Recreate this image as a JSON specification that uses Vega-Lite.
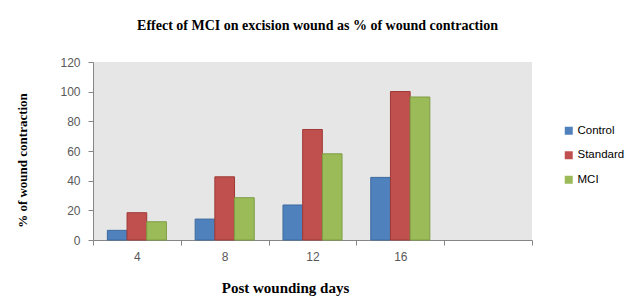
{
  "$schema": "https://vega.github.io/schema/vega-lite/v6.json",
  "autosize": {"type": "none"},
  "width": 439,
  "height": 178,
  "padding": {"left": 93, "top": 62, "right": 94, "bottom": 63},
  "background": "#ffffff",
  "title": {
    "text": "Effect of MCI on excision wound as % of wound contraction",
    "font": "Liberation Serif",
    "fontSize": 14,
    "fontWeight": "bold",
    "color": "#000000",
    "anchor": "middle",
    "offset": 23,
    "dx": 5
  },
  "data": {
    "values": [
      {"day": "4", "group": "Control", "value": 6.5},
      {"day": "4", "group": "Standard", "value": 18.4},
      {"day": "4", "group": "MCI", "value": 12.3},
      {"day": "8", "group": "Control", "value": 14.1},
      {"day": "8", "group": "Standard", "value": 42.6},
      {"day": "8", "group": "MCI", "value": 28.5},
      {"day": "12", "group": "Control", "value": 23.6},
      {"day": "12", "group": "Standard", "value": 74.5},
      {"day": "12", "group": "MCI", "value": 58.1},
      {"day": "16", "group": "Control", "value": 42.2},
      {"day": "16", "group": "Standard", "value": 100.1},
      {"day": "16", "group": "MCI", "value": 96.4}
    ]
  },
  "mark": {"type": "bar", "strokeWidth": 1},
  "encoding": {
    "x": {
      "field": "day",
      "type": "nominal",
      "sort": null,
      "scale": {"domain": ["4", "8", "12", "16", "20"], "paddingInner": 0, "paddingOuter": 0},
      "axis": {
        "title": "Post wounding days",
        "titleFont": "Liberation Serif",
        "titleFontSize": 15,
        "titleFontWeight": "bold",
        "titleColor": "#000000",
        "titleX": 192,
        "titleY": 47,
        "titleBaseline": "middle",
        "labelAngle": 0,
        "labelExpr": "datum.value == '20' ? '' : datum.label",
        "labelFont": "Liberation Sans",
        "labelFontSize": 12,
        "labelColor": "#595959",
        "labelPadding": 6,
        "tickBand": "extent",
        "tickSize": 5,
        "tickColor": "#868686",
        "domainColor": "#868686",
        "grid": false
      }
    },
    "xOffset": {
      "field": "group",
      "type": "nominal",
      "sort": ["Control", "Standard", "MCI"],
      "scale": {"paddingInner": 0, "paddingOuter": 0.73}
    },
    "y": {
      "field": "value",
      "type": "quantitative",
      "scale": {"domain": [0, 120]},
      "axis": {
        "title": "% of wound contraction",
        "titleFont": "Liberation Serif",
        "titleFontSize": 13,
        "titleFontWeight": "bold",
        "titleColor": "#000000",
        "titleX": -71,
        "titleY": 98,
        "titleBaseline": "middle",
        "values": [0, 20, 40, 60, 80, 100, 120],
        "labelFont": "Liberation Sans",
        "labelFontSize": 12,
        "labelColor": "#595959",
        "labelPadding": 8,
        "tickSize": 5,
        "tickColor": "#868686",
        "domainColor": "#868686",
        "grid": false
      }
    },
    "color": {
      "field": "group",
      "type": "nominal",
      "sort": ["Control", "Standard", "MCI"],
      "scale": {"domain": ["Control", "Standard", "MCI"], "range": ["#4F81BD", "#C0504D", "#9BBB59"]},
      "legend": {
        "title": null,
        "orient": "none",
        "legendX": 470,
        "legendY": 63,
        "symbolType": "square",
        "symbolSize": 64,
        "symbolStrokeWidth": 0,
        "labelFont": "Liberation Sans",
        "labelFontSize": 11.5,
        "labelColor": "#000000",
        "labelOffset": 3,
        "rowPadding": 11.5
      }
    },
    "stroke": {
      "field": "group",
      "type": "nominal",
      "scale": {"domain": ["Control", "Standard", "MCI"], "range": ["#3C6A9E", "#9E3A37", "#7E9C42"]},
      "legend": null
    }
  },
  "config": {
    "view": {"fill": "#E6E6E6", "stroke": null}
  }
}
